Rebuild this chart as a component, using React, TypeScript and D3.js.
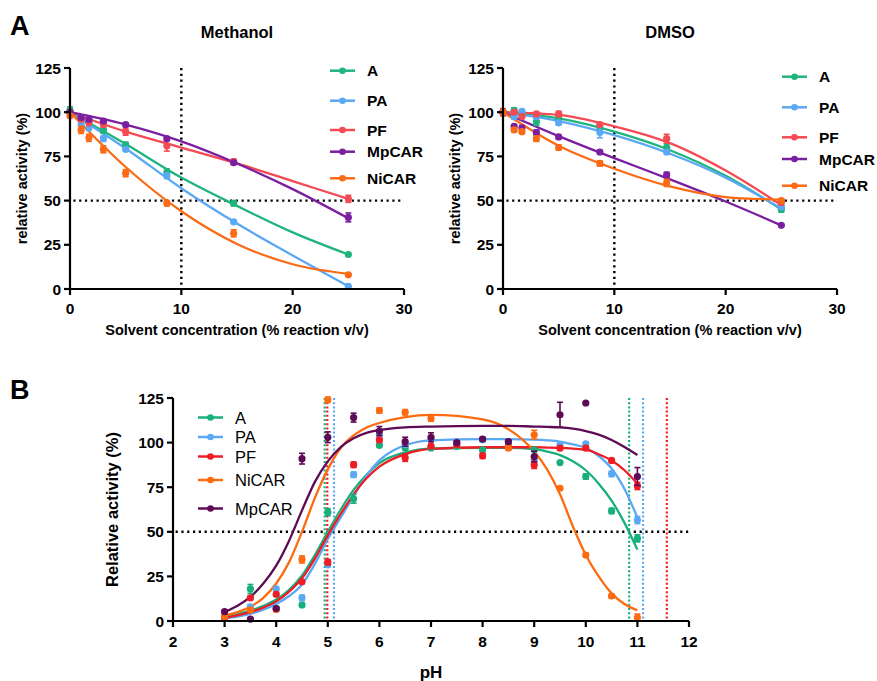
import React from "react";
import * as d3 from "d3";

const FONT = "'Liberation Sans', Arial, Helvetica, sans-serif";

// ---------- Panel A data ----------
const solventX = [0, 1, 1.7, 3, 5, 8.7, 14.7, 25];
const enzymesA = ["A", "PA", "PF", "MpCAR", "NiCAR"];

const methA = [101, 97, 94.5, 90, 81.5, 66, 48.5, 19.5];
const methPA = [100, 93, 91, 85, 79, 64, 38, 1.5];
const methPF = [100, 96, 94, 93.5, 89, 81, 72, 51];
const methMpCAR = [100, 97, 96, 95, 93, 85, 71.5, 40.5];
const methNiCAR = [98, 90, 85.5, 79, 65.5, 48.5, 31.5, 8];

const methErrA = [2, 1, 1, 2, 1.5, 2, 1.5, 0.5];
const methErrPA = [1, 3, 1, 1.5, 1, 1.5, 1, 0.5];
const methErrPF = [1, 1, 1, 2, 2, 3, 1.5, 2];
const methErrMpCAR = [1, 1, 1, 1, 1, 1, 1, 2.5];
const methErrNiCAR = [1, 2, 2, 2, 2, 1.5, 2, 0.5];

const dmsoA = [100, 101, 99, 94.5, 96.5, 91.5, 80, 45];
const dmsoPA = [100, 97.5, 100.5, 97.5, 94, 88.5, 77.5, 46.5];
const dmsoPF = [100, 100, 97.5, 99, 99, 93, 85, 49];
const dmsoMpCAR = [100, 92, 91, 88.5, 86, 77.5, 64.5, 36];
const dmsoNiCAR = [100, 90, 89, 85, 80, 71, 60, 50];

const dmsoErrA = [2, 1.5, 1.5, 2, 1, 1.5, 2, 1.5];
const dmsoErrPA = [1, 1.5, 1, 1, 1, 3, 1, 1];
const dmsoErrPF = [2, 1, 1, 1, 1.5, 1, 2.5, 1.5];
const dmsoErrMpCAR = [1, 1, 1.5, 1.5, 1, 1, 1.5, 0.5];
const dmsoErrNiCAR = [1, 1, 1, 1.5, 1.5, 1.5, 2, 1];

// fitted curves, sampled
const fitX = [0, 5, 10, 15, 20, 25];
const methFitA = [100, 82, 63, 47, 32, 19.5];
const methFitPA = [100, 79.5, 57, 37, 19, 1.5];
const methFitPF = [100, 89, 80, 71, 61, 51];
const methFitMpCAR = [100, 93, 83.5, 71, 56.5, 40];
const methFitNiCAR = [100, 69, 44, 25.5, 14, 8.5];

const dmsoFitA = [100, 96.5, 89, 78.5, 64, 45];
const dmsoFitPA = [100, 95, 87, 76.5, 63, 45.5];
const dmsoFitPF = [100, 98.5, 92, 82.5, 67, 47.5];
const dmsoFitMpCAR = [100, 86.5, 74, 62, 49.5, 36];
const dmsoFitNiCAR = [100, 81, 68, 58, 52, 50.5];

const colorsA: Record<string, string> = {
  A: "#1fb47d",
  PA: "#5ba8f4",
  PF: "#f34a53",
  MpCAR: "#7b1fa1",
  NiCAR: "#fb6a14",
};

// ---------- Panel B data ----------
const enzymesB = ["A", "PA", "PF", "NiCAR", "MpCAR"];
const phX = [3, 3.5, 4, 4.5, 5, 5.5, 6, 6.5, 7, 7.5, 8, 8.5, 9, 9.5, 10, 10.5, 11];

const phA = [1.9, 18, 7, 9, 61, 68.5, 98.5, 97, 97, 97.8, 96, 97.8, 96, 88.8, 81, 61.7, 46.3];
const phPA = [1.5, 8, 18, 13, 31.5, 82, 104.5, 98.9, 101.7, 100.6, 101.6, 100.6, 90.3, 98.8, 99.3, 82.5, 56.6];
const phPF = [1.9, 13, 15, 22, 33, 87.6, 101.5, 91.5, 98, 98.8, 92.6, 97.5, 87.5, 96.9, 96.9, 90, 75.7];
const phNiCAR = [2.4, 6.2, 6.5, 34.5, 124, null, 118, 117, 113.5, null, null, 97, 104.4, 74.4, 37, 14, 1.9];
const phMpCAR = [5.2, 1.1, 7, 91, 103, 114, 106.5, 100.5, 103, 100, 102, 100.6, 92.2, 115.6, 122.2, null, 81];

const phErrA = [0.5, 2.5, 1, 1, 2, 2.5, 1, 1, 1, 1, 1, 1, 1, 0.5, 1.5, 1.5, 2];
const phErrPA = [0.5, 1, 1, 1.5, 1, 1.5, 1, 1, 1, 1, 1, 1, 1, 1, 1, 1.5, 2];
const phErrPF = [0.5, 1, 1, 1, 1.5, 1.5, 1, 2, 1, 1, 1.5, 1, 2, 1, 1, 1, 2];
const phErrNiCAR = [0.5, 1, 1, 2, 1.5, 0, 1.5, 1.5, 1.5, 0, 0, 1, 2.5, 1, 1, 1, 2];
const phErrMpCAR = [1, 0.5, 1, 3, 3, 2.5, 2.5, 2.5, 2.5, 1, 1, 1, 3, 7, 0.5, 0, 5];

const phFitX = [3, 3.25, 3.5, 3.75, 4, 4.25, 4.5, 4.75, 5, 5.25, 5.5, 5.75, 6, 6.5, 7, 8, 8.5, 9, 9.25, 9.5, 9.75, 10, 10.25, 10.5, 10.75, 11];
const phFitA = [2.4, 3.8, 5.8, 8.5, 12, 17.5, 25.5, 37, 50, 62.5, 73.5, 82, 88.5, 94.5, 96.7, 97, 97, 96.3, 95, 93, 89.5, 84.5, 77, 67.5, 55, 40];
const phFitPA = [1.5, 2.5, 4, 6.3, 9.5, 14, 20.5, 32, 46, 58, 70, 81.5, 90, 98.5, 101.3, 102, 102, 101.7, 101.3, 100.6, 99, 97, 92.5, 85.5, 74, 58];
const phFitPF = [1.9, 3.2, 5, 7.5, 11, 16.5, 24, 35, 48, 60, 71, 80, 86.5, 93.5, 96.5, 97.4, 97.4, 97.4, 97.2, 97, 96.6, 96, 93.5, 90, 84.5, 77];
const phFitNiCAR = [3, 5, 8, 13, 21, 33, 50, 69, 85, 97, 104, 108.5, 111, 114.3, 115.5, 113, 107.5, 95, 85, 71, 53, 37, 25, 15.5, 9.5, 6];
const phFitMpCAR = [5, 8.5, 13.5, 21, 31, 45, 62, 78, 89.5, 97.5, 102.5, 105.5, 107, 108.5, 109, 109.4, 109.4, 109, 108.8, 108.5, 107.8, 106.5, 104.5, 101.5, 97.5, 93];

// half-activity pH values (vertical dotted lines)
const halfA = [4.94, 10.84];
const halfPA = [5.12, 11.11];
const halfPF = [4.99, 11.57];

const colorsB: Record<string, string> = {
  A: "#17b07b",
  PA: "#5ba8f4",
  PF: "#ee1c24",
  NiCAR: "#fd6b10",
  MpCAR: "#5d0b55",
};

const yTicks = [0, 25, 50, 75, 100, 125];

type Series = {
  name: string;
  vals: (number | null)[];
  errs: number[];
  fit: number[];
};

function Marker({ cx, cy, color, err, ys }: any) {
  const top = ys(0) - ys(err);
  return (
    <g>
      {err > 0.3 && (
        <g stroke={color} strokeWidth={1.6}>
          <line x1={cx} x2={cx} y1={cy - top} y2={cy + top} />
          <line x1={cx - 3} x2={cx + 3} y1={cy - top} y2={cy - top} />
          <line x1={cx - 3} x2={cx + 3} y1={cy + top} y2={cy + top} />
        </g>
      )}
      <circle cx={cx} cy={cy} r={3.6} fill={color} />
    </g>
  );
}

function SolventPanel({
  left,
  title,
  series,
  legendX,
  legendYs,
  ylabelX,
}: {
  left: number;
  title: string;
  series: Series[];
  legendX: number;
  legendYs: number[];
  ylabelX: number;
}) {
  const xs = d3.scaleLinear().domain([0, 30]).range([left, left + 334]);
  const ys = d3.scaleLinear().domain([0, 125]).range([289, 68]);
  const line = d3
    .line<[number, number]>()
    .x((d) => xs(d[0]))
    .y((d) => ys(d[1]))
    .curve(d3.curveMonotoneX);
  const xTicks = [0, 10, 20, 30];
  return (
    <g>
      <text x={(xs(0) + xs(30)) / 2} y={38} textAnchor="middle" fontWeight="bold" fontSize={16.5}>
        {title}
      </text>
      <line x1={xs(10)} x2={xs(10)} y1={ys(125)} y2={ys(0)} stroke="#000" strokeWidth={2.4} strokeDasharray="2.2 3.6" />
      <line x1={xs(0.3)} x2={xs(30)} y1={ys(50)} y2={ys(50)} stroke="#000" strokeWidth={2.4} strokeDasharray="2.2 3.6" />
      {series.map((s) => (
        <path
          key={s.name + "f"}
          d={line(fitX.map((x, i) => [x, s.fit[i]] as [number, number])) || ""}
          fill="none"
          stroke={colorsA[s.name]}
          strokeWidth={2.3}
        />
      ))}
      {series.map((s) =>
        s.vals.map((v, i) =>
          v == null ? null : (
            <Marker key={s.name + i} cx={xs(solventX[i])} cy={ys(v)} color={colorsA[s.name]} err={s.errs[i]} ys={ys} />
          )
        )
      )}
      <line x1={xs(0)} x2={xs(30)} y1={ys(0)} y2={ys(0)} stroke="#000" strokeWidth={2.2} />
      <line x1={xs(0)} x2={xs(0)} y1={ys(0) + 1} y2={ys(125)} stroke="#000" strokeWidth={2.2} />
      {xTicks.map((t) => (
        <g key={"xt" + t}>
          <line x1={xs(t)} x2={xs(t)} y1={ys(0)} y2={ys(0) + 6} stroke="#000" strokeWidth={2.2} />
          <text x={xs(t)} y={314} textAnchor="middle" fontWeight="bold" fontSize={15.5}>
            {t}
          </text>
        </g>
      ))}
      {yTicks.map((t) => (
        <g key={"yt" + t}>
          <line x1={xs(0) - 6} x2={xs(0)} y1={ys(t)} y2={ys(t)} stroke="#000" strokeWidth={2.2} />
          <text x={xs(0) - 9} y={ys(t) + 5.5} textAnchor="end" fontWeight="bold" fontSize={15.5}>
            {t}
          </text>
        </g>
      ))}
      <text x={(xs(0) + xs(30)) / 2} y={335} textAnchor="middle" fontWeight="bold" fontSize={14.5}>
        Solvent concentration (% reaction v/v)
      </text>
      <text
        transform={`translate(${ylabelX},${ys(62.5)}) rotate(-90)`}
        textAnchor="middle"
        fontWeight="bold"
        fontSize={14.5}
      >
        relative activity (%)
      </text>
      {series.map((s, i) => (
        <g key={"lg" + s.name}>
          <line x1={legendX} x2={legendX + 25} y1={legendYs[i]} y2={legendYs[i]} stroke={colorsA[s.name]} strokeWidth={2.5} />
          <circle cx={legendX + 12.5} cy={legendYs[i]} r={3.3} fill={colorsA[s.name]} />
          <text x={legendX + 37} y={legendYs[i] + 5.5} fontWeight="bold" fontSize={15.5}>
            {s.name}
          </text>
        </g>
      ))}
    </g>
  );
}

function PHPanel({ series }: { series: Series[] }) {
  const xs = d3.scaleLinear().domain([2, 12]).range([173, 689]);
  const ys = d3.scaleLinear().domain([0, 125]).range([621, 398]);
  const line = d3
    .line<[number, number]>()
    .x((d) => xs(d[0]))
    .y((d) => ys(d[1]))
    .curve(d3.curveMonotoneX);
  const xTicks = d3.range(2, 13, 1);
  const halves: [string, number[]][] = [
    ["A", halfA],
    ["PF", halfPF],
    ["PA", halfPA],
  ];
  const legendYs = [417.5, 437, 456.5, 480, 508.5];
  return (
    <g>
      {halves.map(([name, arr]) =>
        arr.map((v) => (
          <line
            key={name + v}
            x1={xs(v)}
            x2={xs(v)}
            y1={ys(125)}
            y2={ys(0)}
            stroke={colorsB[name]}
            strokeWidth={2.2}
            strokeDasharray="2 2.2"
          />
        ))
      )}
      <line x1={xs(2.05)} x2={xs(12)} y1={ys(50)} y2={ys(50)} stroke="#000" strokeWidth={2.4} strokeDasharray="2.2 3.6" />
      {series.map((s) => (
        <path
          key={s.name + "f"}
          d={line(phFitX.map((x, i) => [x, s.fit[i]] as [number, number])) || ""}
          fill="none"
          stroke={colorsB[s.name]}
          strokeWidth={2.3}
        />
      ))}
      {series.map((s) =>
        s.vals.map((v, i) =>
          v == null ? null : (
            <Marker key={s.name + i} cx={xs(phX[i])} cy={ys(v)} color={colorsB[s.name]} err={s.errs[i]} ys={ys} />
          )
        )
      )}
      <line x1={xs(2)} x2={xs(12)} y1={ys(0)} y2={ys(0)} stroke="#000" strokeWidth={2.2} />
      <line x1={xs(2)} x2={xs(2)} y1={ys(0) + 1} y2={ys(125)} stroke="#000" strokeWidth={2.2} />
      {xTicks.map((t) => (
        <g key={"xt" + t}>
          <line x1={xs(t)} x2={xs(t)} y1={ys(0)} y2={ys(0) + 6} stroke="#000" strokeWidth={2.2} />
          <text x={xs(t)} y={647} textAnchor="middle" fontWeight="bold" fontSize={15.5}>
            {t}
          </text>
        </g>
      ))}
      {yTicks.map((t) => (
        <g key={"yt" + t}>
          <line x1={xs(2) - 6} x2={xs(2)} y1={ys(t)} y2={ys(t)} stroke="#000" strokeWidth={2.2} />
          <text x={xs(2) - 9} y={ys(t) + 5.5} textAnchor="end" fontWeight="bold" fontSize={15.5}>
            {t}
          </text>
        </g>
      ))}
      <text x={(xs(2) + xs(12)) / 2} y={678} textAnchor="middle" fontWeight="bold" fontSize={17}>
        pH
      </text>
      <text transform={`translate(118,${ys(62.5)}) rotate(-90)`} textAnchor="middle" fontWeight="bold" fontSize={16.5}>
        Relative activity (%)
      </text>
      {series.map((s, i) => (
        <g key={"lg" + s.name}>
          <line x1={198} x2={223} y1={legendYs[i]} y2={legendYs[i]} stroke={colorsB[s.name]} strokeWidth={2.5} />
          <circle cx={210.5} cy={legendYs[i]} r={3.3} fill={colorsB[s.name]} />
          <text x={235} y={legendYs[i] + 6} fontSize={16.5}>
            {s.name}
          </text>
        </g>
      ))}
    </g>
  );
}

export default function App() {
  const methSeries: Series[] = [
    { name: "A", vals: methA, errs: methErrA, fit: methFitA },
    { name: "PA", vals: methPA, errs: methErrPA, fit: methFitPA },
    { name: "PF", vals: methPF, errs: methErrPF, fit: methFitPF },
    { name: "MpCAR", vals: methMpCAR, errs: methErrMpCAR, fit: methFitMpCAR },
    { name: "NiCAR", vals: methNiCAR, errs: methErrNiCAR, fit: methFitNiCAR },
  ];
  const dmsoSeries: Series[] = [
    { name: "A", vals: dmsoA, errs: dmsoErrA, fit: dmsoFitA },
    { name: "PA", vals: dmsoPA, errs: dmsoErrPA, fit: dmsoFitPA },
    { name: "PF", vals: dmsoPF, errs: dmsoErrPF, fit: dmsoFitPF },
    { name: "MpCAR", vals: dmsoMpCAR, errs: dmsoErrMpCAR, fit: dmsoFitMpCAR },
    { name: "NiCAR", vals: dmsoNiCAR, errs: dmsoErrNiCAR, fit: dmsoFitNiCAR },
  ];
  const phSeries: Series[] = [
    { name: "A", vals: phA, errs: phErrA, fit: phFitA },
    { name: "PA", vals: phPA, errs: phErrPA, fit: phFitPA },
    { name: "PF", vals: phPF, errs: phErrPF, fit: phFitPF },
    { name: "NiCAR", vals: phNiCAR, errs: phErrNiCAR, fit: phFitNiCAR },
    { name: "MpCAR", vals: phMpCAR, errs: phErrMpCAR, fit: phFitMpCAR },
  ];
  void enzymesA;
  void enzymesB;
  return (
    <svg
      width={877}
      height={681}
      viewBox="0 0 877 681"
      style={{ position: "absolute", left: 0, top: 0, background: "#fff" }}
      fontFamily={FONT}
    >
      <rect width={877} height={681} fill="#fff" />
      <text x={10} y={35} fontWeight="bold" fontSize={27}>
        A
      </text>
      <text x={10} y={399} fontWeight="bold" fontSize={27}>
        B
      </text>
      <SolventPanel
        left={70}
        title="Methanol"
        series={methSeries}
        legendX={330}
        legendYs={[70.7, 100.7, 130, 151.7, 178.3]}
        ylabelX={27}
      />
      <SolventPanel
        left={503}
        title="DMSO"
        series={dmsoSeries}
        legendX={782}
        legendYs={[76.7, 107.3, 137.3, 159, 185.7]}
        ylabelX={460}
      />
      <PHPanel series={phSeries} />
    </svg>
  );
}
